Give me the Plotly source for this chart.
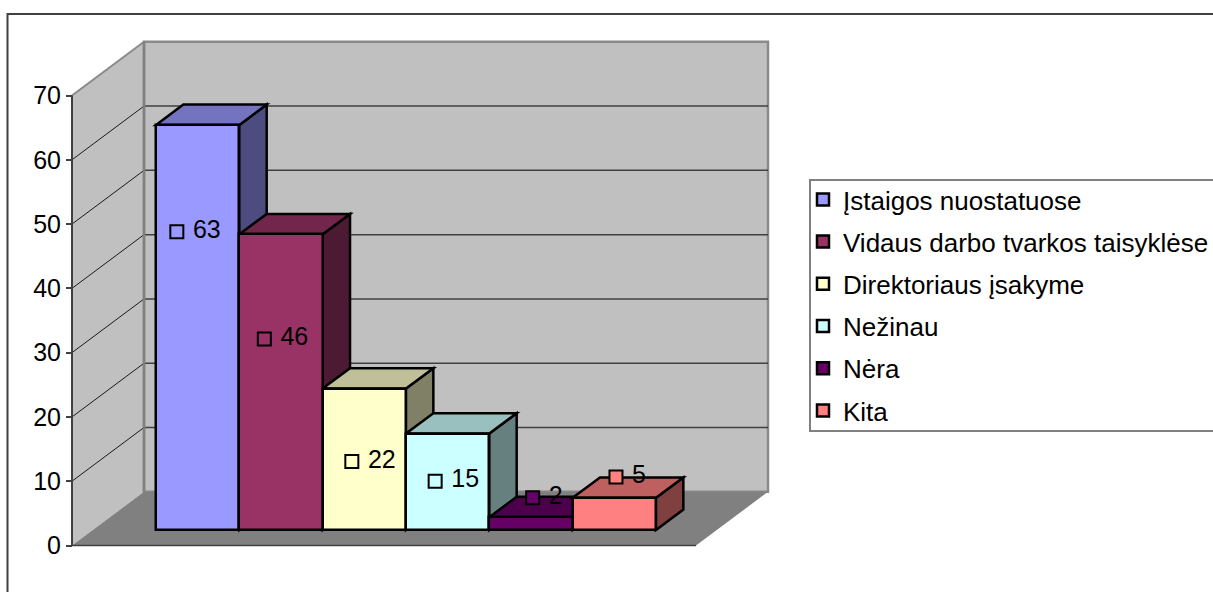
import plotly.graph_objects as go

# Survey answers, one series per answer
series_names = ["Įstaigos nuostatuose", "Vidaus darbo tvarkos taisyklėse",
                "Direktoriaus įsakyme", "Nežinau", "Nėra", "Kita"]
series_values = [63, 46, 22, 15, 2, 5]
series_colors = ["#9999FF", "#993366", "#FFFFCC", "#CCFFFF", "#660066", "#FF8080"]
y_ticks = [0, 10, 20, 30, 40, 50, 60, 70]

# Data label placement relative to each bar: x within the slot, y relative to the bar top
label_x_shift = [0.25, 0.30, 0.35, 0.35, 0.52, 0.52]
label_y_shift = [-16.6, -16.3, -11.35, -7.4, 3.0, 3.25]

W, H = 1213, 592
FONT = "Liberation Sans, Arial, sans-serif"
FONT_SIZE = 25
LEGEND_FONT_SIZE = 26
EDGE_WIDTH = 2.5

# Axis scales: one x unit is one bar slot, y is in chart values
SLOT_PX = 83.33
X0_PX = 156.0
UNIT_PX = 450 / 70
Y0_PX = 545.5
x_range = [-X0_PX / SLOT_PX, (W - X0_PX) / SLOT_PX]
y_range = [(Y0_PX - H) / UNIT_PX, Y0_PX / UNIT_PX]

# Oblique projection of the box: offset of the back wall from the front edge
DEPTH_X = 72 / SLOT_PX
DEPTH_Y = 53.7 / UNIT_PX
FLOOR_LEFT = (72 - X0_PX) / SLOT_PX
FLOOR_RIGHT = (696 - X0_PX) / SLOT_PX
BAR_FRONT = 0.2887  # depth of the bar front plane
BAR_DEPTH = 0.38    # depth of the bars themselves


def project(x, value, depth):
    return x + depth * DEPTH_X, value + depth * DEPTH_Y


def bar_point(x, value, depth):
    # Bar slots are measured on the bar front plane, so x only moves behind it
    return x + (depth - BAR_FRONT) * DEPTH_X, value + depth * DEPTH_Y


def poly(points, fill, line=None, width=0):
    path = "M" + "L".join(f"{x:.4f},{y:.4f}" for x, y in points) + "Z"
    return dict(type="path", path=path, xref="x", yref="y", layer="below",
                fillcolor=fill, line=dict(color=line or fill, width=width))


def segment(p, q, color, width):
    return dict(type="line", xref="x", yref="y", layer="below",
                x0=p[0], y0=p[1], x1=q[0], y1=q[1], line=dict(color=color, width=width))


def shade(hex_color, factor):
    rgb = [int(hex_color[i:i + 2], 16) for i in (1, 3, 5)]
    return "#" + "".join(f"{round(c * factor):02X}" for c in rgb)


top = y_ticks[-1]
shapes = []

# Walls and floor
shapes.append(poly([project(FLOOR_LEFT, 0, 0), project(FLOOR_LEFT, top, 0),
                    project(FLOOR_LEFT, top, 1), project(FLOOR_LEFT, 0, 1)], "#C0C0C0"))
shapes.append(poly([project(FLOOR_LEFT, 0, 1), project(FLOOR_LEFT, top, 1),
                    project(FLOOR_RIGHT, top, 1), project(FLOOR_RIGHT, 0, 1)],
                   "#C0C0C0", "#8A8A8A", 2.5))
shapes.append(poly([project(FLOOR_LEFT, 0, 0), project(FLOOR_LEFT, 0, 1),
                    project(FLOOR_RIGHT, 0, 1), project(FLOOR_RIGHT, 0, 0)], "#808080"))

# Gridlines on the side and back walls
for tick in y_ticks[1:-1]:
    shapes.append(segment(project(FLOOR_LEFT, tick, 0), project(FLOOR_LEFT, tick, 1), "#1A1A1A", 1))
    shapes.append(segment(project(FLOOR_LEFT, tick, 1), project(FLOOR_RIGHT, tick, 1), "#404040", 1.5))

# Wall edges and value axis
shapes.append(segment(project(FLOOR_LEFT, top, 0), project(FLOOR_LEFT, top, 1), "#8A8A8A", 2))
shapes.append(segment(project(FLOOR_LEFT, 0, 1), project(FLOOR_LEFT, top, 1), "#808080", 2.5))
shapes.append(segment(project(FLOOR_LEFT, 0, 0), project(FLOOR_LEFT, top, 0), "#404040", 2))
shapes.append(segment(project(FLOOR_LEFT, 0, 0), project(FLOOR_RIGHT, 0, 0), "#404040", 1.5))

# Top and side face of each bar; the front faces are the bar traces above them
d1, d2 = BAR_FRONT, BAR_FRONT + BAR_DEPTH
for i, (value, color) in enumerate(zip(series_values, series_colors)):
    left, right = i, i + 1
    shapes.append(poly([bar_point(right, 0, d1), bar_point(right, value, d1),
                        bar_point(right, value, d2), bar_point(right, 0, d2)],
                       shade(color, 0.5), "#000000", EDGE_WIDTH))
    shapes.append(poly([bar_point(left, value, d1), bar_point(left, value, d2),
                        bar_point(right, value, d2), bar_point(right, value, d1)],
                       shade(color, 0.75), "#000000", EDGE_WIDTH))

# Chart frame and legend frame, both run off the right edge of the page
to_x = lambda px: x_range[0] + px / SLOT_PX
to_y = lambda px: (Y0_PX - px) / UNIT_PX
shapes.append(dict(type="path", xref="x", yref="y", layer="below", fillcolor="rgba(0,0,0,0)",
                   line=dict(color="#404040", width=2),
                   path=f"M{to_x(7.5)},{to_y(600)}L{to_x(7.5)},{to_y(14)}L{to_x(1220)},{to_y(14)}"))
shapes.append(dict(type="rect", xref="x", yref="y", layer="below", fillcolor="#FFFFFF",
                   line=dict(color="#808080", width=2),
                   x0=to_x(810), x1=to_x(1225), y0=to_y(431), y1=to_y(180)))

fig = go.Figure()

base_value = BAR_FRONT * DEPTH_Y
for i, (name, value, color) in enumerate(zip(series_names, series_values, series_colors)):
    fig.add_trace(go.Bar(
        x=[i + 0.5], y=[value], base=[base_value], width=[1], name=name, legendgroup=name,
        marker=dict(color=color, line=dict(color="#000000", width=EDGE_WIDTH)),
    ))

for i, (name, value, color) in enumerate(zip(series_names, series_values, series_colors)):
    fig.add_trace(go.Scatter(
        x=[i + label_x_shift[i]], y=[value + base_value + label_y_shift[i]],
        mode="markers+text", text=[f" {value}"], textposition="middle right",
        textfont=dict(family=FONT, size=FONT_SIZE, color="#000000"),
        marker=dict(symbol="square", size=13, color=color, line=dict(color="#000000", width=2)),
        showlegend=False, cliponaxis=False, name=name,
    ))

fig.update_layout(
    width=W, height=H, autosize=False,
    margin=dict(l=0, r=0, t=0, b=0, pad=0, autoexpand=False),
    paper_bgcolor="#FFFFFF", plot_bgcolor="#FFFFFF",
    barmode="overlay", shapes=shapes, bargap=0,
    font=dict(family=FONT, size=FONT_SIZE, color="#000000"),
    showlegend=True,
    legend=dict(x=803 / W, y=1 - 176 / H, xanchor="left", yanchor="top", maxheight=H,
                bgcolor="rgba(0,0,0,0)", borderwidth=0, tracegroupgap=5.4,
                font=dict(family=FONT, size=LEGEND_FONT_SIZE, color="#000000"), itemclick=False),
    xaxis=dict(range=x_range, visible=False, domain=[0, 1], fixedrange=True),
    yaxis=dict(range=y_range, anchor="free", position=72 / W, tickvals=y_ticks,
               ticks="outside", ticklen=6, tickwidth=1.5, tickcolor="#404040",
               showgrid=False, zeroline=False, showline=False, fixedrange=True,
               tickfont=dict(family=FONT, size=FONT_SIZE, color="#000000")),
)

fig.write_html("out.html", config=dict(displayModeBar=False))
